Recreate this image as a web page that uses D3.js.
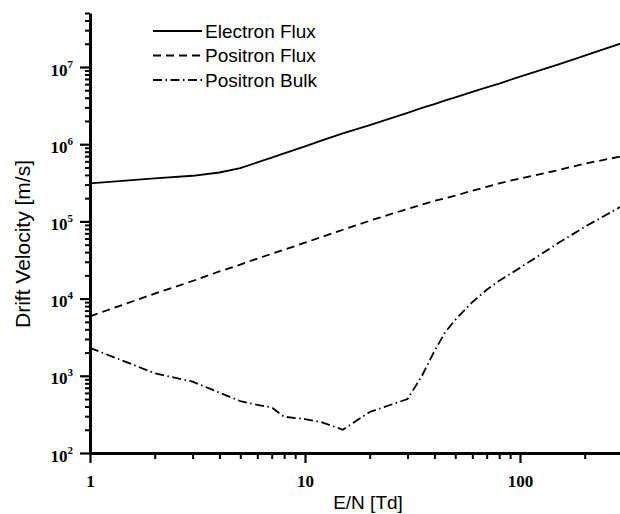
<!DOCTYPE html>
<html>
<head>
<meta charset="utf-8">
<script src="https://cdn.jsdelivr.net/npm/d3@7"></script>
<style>
  html, body { margin: 0; padding: 0; background: #fff; }
  #chart { width: 620px; height: 514px; overflow: hidden; }
  .axis path, .axis line { stroke: #000; }
  .curve { fill: none; stroke: #000; stroke-width: 1.8; }
</style>
</head>
<body>
<div id="chart"></div>
<script>
// reduced field E/N in Td
var fieldTd = [1, 2, 3, 4, 5, 6, 7, 8, 10, 12, 15, 20, 30, 35, 40, 45, 50, 60, 70, 80, 100, 150, 200, 300];

// drift velocities in m/s
var electronFlux = [3.1e5, 3.6e5, 3.9e5, 4.3e5, 4.9e5, 5.8e5, 6.7e5, 7.6e5, 9.4e5, 1.12e6, 1.38e6, 1.77e6, 2.55e6, 2.95e6, 3.3e6, 3.7e6, 4.05e6, 4.75e6, 5.45e6, 6.1e6, 7.5e6, 1.07e7, 1.4e7, 2.05e7];
var positronFlux = [5.9e3, 1.16e4, 1.69e4, 2.25e4, 2.75e4, 3.3e4, 3.8e4, 4.3e4, 5.3e4, 6.3e4, 7.8e4, 1.02e5, 1.45e5, 1.65e5, 1.85e5, 2.0e5, 2.15e5, 2.5e5, 2.8e5, 3.1e5, 3.6e5, 4.6e5, 5.6e5, 7.0e5];
var positronBulk = [2.3e3, 1.08e3, 8.4e2, 6.05e2, 4.7e2, 4.2e2, 3.9e2, 2.95e2, 2.75e2, 2.5e2, 2.0e2, 3.4e2, 5.0e2, 1.0e3, 2.1e3, 3.7e3, 5.3e3, 9.0e3, 1.3e4, 1.7e4, 2.5e4, 5.2e4, 8.5e4, 1.6e5];

var seriesNames = ['Electron Flux', 'Positron Flux', 'Positron Bulk'];
var seriesValues = [electronFlux, positronFlux, positronBulk];
var seriesDash = [null, '8,5', '9,3.5,1.5,3.5'];

var xDomain = [1, 300];
var yDomain = [1e2, 5e7];
var xMajorTicks = [1, 10, 100];
var xMinorTicks = [2, 3, 4, 5, 6, 7, 8, 9, 20, 30, 40, 50, 60, 70, 80, 90, 200, 300];
var yMajorTicks = [1e2, 1e3, 1e4, 1e5, 1e6, 1e7];
var yMinorTicks = [];
[1e2, 1e3, 1e4, 1e5, 1e6, 1e7].forEach(function (d) {
  [2, 3, 4, 5, 6, 7, 8, 9].forEach(function (m) {
    if (d * m <= 5e7) { yMinorTicks.push(d * m); }
  });
});

(function () {
  var width = 620;
  var height = 514;
  var left = 90;
  var bottom = 453;

  var svg = d3.select('#chart').append('svg')
    .attr('width', width)
    .attr('height', height);

  var x = d3.scaleLog().domain(xDomain).range([left, left + Math.log10(300) * 215]);
  var y = d3.scaleLog().domain(yDomain).range([bottom, bottom - Math.log10(5e5) * 77.2]);

  // curves
  var line = d3.line()
    .x(function (d) { return x(d[0]); })
    .y(function (d) { return y(d[1]); });

  seriesValues.forEach(function (vals, i) {
    var pts = fieldTd.map(function (e, k) { return [e, vals[k]]; });
    svg.append('path')
      .attr('class', 'curve')
      .attr('d', line(pts))
      .attr('stroke-dasharray', seriesDash[i]);
  });

  // y axis: minor then major ticks
  var yMinor = svg.append('g').attr('class', 'axis')
    .attr('transform', 'translate(' + left + ',0)')
    .call(d3.axisLeft(y).tickValues(yMinorTicks).tickSize(5).tickSizeOuter(0).tickFormat(''));
  yMinor.selectAll('.tick line').attr('stroke-width', 2);
  yMinor.select('.domain').attr('stroke-width', 3);

  var yMajor = svg.append('g').attr('class', 'axis')
    .attr('transform', 'translate(' + left + ',0)')
    .call(d3.axisLeft(y).tickValues(yMajorTicks).tickSize(10).tickSizeOuter(0).tickPadding(7)
      .tickFormat(function (d) { return Math.round(Math.log10(d)); }));
  yMajor.select('.domain').remove();
  yMajor.selectAll('.tick line').attr('stroke-width', 2.2);
  yMajor.selectAll('.tick text').each(function () {
    var t = d3.select(this);
    var exp = t.text();
    t.text(null)
      .attr('font-family', '"Liberation Serif", "Times New Roman", serif')
      .attr('font-weight', 'bold')
      .attr('font-size', 17)
      .attr('fill', '#000')
      .attr('dy', 8);
    t.append('tspan').text('10');
    t.append('tspan').attr('font-size', 11).attr('dy', -8).text(exp);
  });

  // x axis
  var xMinor = svg.append('g').attr('class', 'axis')
    .attr('transform', 'translate(0,' + bottom + ')')
    .call(d3.axisBottom(x).tickValues(xMinorTicks).tickSize(6).tickSizeOuter(0).tickFormat(''));
  xMinor.selectAll('.tick line').attr('stroke-width', 2);
  xMinor.select('.domain').attr('stroke-width', 3);

  var xMajor = svg.append('g').attr('class', 'axis')
    .attr('transform', 'translate(0,' + bottom + ')')
    .call(d3.axisBottom(x).tickValues(xMajorTicks).tickSize(10).tickSizeOuter(0)
      .tickFormat(function (d) { return String(d); }));
  xMajor.select('.domain').remove();
  xMajor.selectAll('.tick line').attr('stroke-width', 2.2);
  xMajor.selectAll('.tick text')
    .attr('font-family', '"Liberation Serif", "Times New Roman", serif')
    .attr('font-weight', 'bold')
    .attr('font-size', 17)
    .attr('fill', '#000')
    .attr('y', 34)
    .attr('dy', 0);

  // axis titles
  svg.append('text')
    .attr('x', 368)
    .attr('y', 509)
    .attr('text-anchor', 'middle')
    .attr('font-family', '"Liberation Sans", Arial, sans-serif')
    .attr('font-size', 19)
    .text('E/N [Td]');

  svg.append('text')
    .attr('transform', 'translate(30,244) rotate(-90)')
    .attr('text-anchor', 'middle')
    .attr('font-family', '"Liberation Sans", Arial, sans-serif')
    .attr('font-size', 21)
    .text('Drift Velocity [m/s]');

  // legend
  var legend = svg.append('g').attr('transform', 'translate(153,31)');
  seriesNames.forEach(function (name, i) {
    var row = legend.append('g').attr('transform', 'translate(0,' + (i * 24.5) + ')');
    row.append('line')
      .attr('class', 'curve')
      .attr('x1', 0).attr('x2', 49)
      .attr('y1', 0).attr('y2', 0)
      .attr('stroke-dasharray', seriesDash[i]);
    row.append('text')
      .attr('x', 52)
      .attr('y', 6.5)
      .attr('font-family', '"Liberation Sans", Arial, sans-serif')
      .attr('font-size', 19)
      .text(name);
  });
})();
</script>
</body>
</html>
